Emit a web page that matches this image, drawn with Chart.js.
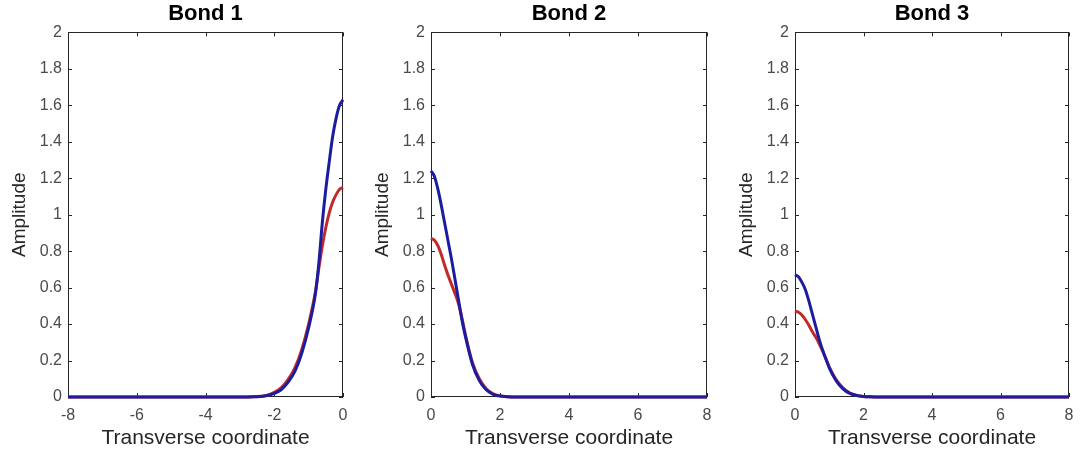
<!DOCTYPE html>
<html>
<head>
<meta charset="utf-8">
<style>
  body { margin: 0; background: #fff; }
  .panel { position: absolute; top: 0; height: 452px; }
</style>
</head>
<body>
<div class="panel" style="left:0px;width:362px"><canvas id="bond1"></canvas></div>
<div class="panel" style="left:363px;width:362px"><canvas id="bond2"></canvas></div>
<div class="panel" style="left:727px;width:358px"><canvas id="bond3"></canvas></div>
<script src="https://cdn.jsdelivr.net/npm/chart.js"></script>
<script>

// values
const bond1X    = [-8, -6, -4, -3, -2.6, -2.4, -2.2, -2.0, -1.8, -1.6, -1.4, -1.2, -1.0, -0.8, -0.7, -0.6, -0.5, -0.4, -0.3, -0.2, -0.1, 0];
const bond1Blue = [0, 0, 0, 0, 0.001, 0.003, 0.008, 0.02, 0.04, 0.08, 0.14, 0.24, 0.38, 0.57, 0.74, 0.96, 1.14, 1.29, 1.43, 1.53, 1.60, 1.63];
const bond1Red  = [0, 0, 0, 0, 0.001, 0.004, 0.01, 0.025, 0.05, 0.095, 0.16, 0.26, 0.40, 0.58, 0.71, 0.83, 0.93, 1.01, 1.07, 1.11, 1.14, 1.15];

const bond23X   = [0, 0.1, 0.2, 0.3, 0.4, 0.5, 0.6, 0.7, 0.8, 0.9, 1.0, 1.2, 1.4, 1.6, 1.8, 2.0, 2.2, 2.4, 3, 4, 6, 8];
const bond2Blue = [1.24, 1.21, 1.14, 1.05, 0.95, 0.85, 0.75, 0.64, 0.53, 0.42, 0.33, 0.18, 0.09, 0.04, 0.015, 0.005, 0.002, 0, 0, 0, 0, 0];
const bond2Red  = [0.87, 0.86, 0.83, 0.78, 0.72, 0.665, 0.615, 0.565, 0.51, 0.43, 0.34, 0.19, 0.10, 0.045, 0.018, 0.006, 0.002, 0, 0, 0, 0, 0];
const bond3Blue = [0.67, 0.66, 0.63, 0.59, 0.53, 0.46, 0.39, 0.32, 0.26, 0.21, 0.16, 0.09, 0.045, 0.02, 0.008, 0.003, 0.001, 0, 0, 0, 0, 0];
const bond3Red  = [0.47, 0.465, 0.45, 0.425, 0.395, 0.36, 0.33, 0.295, 0.255, 0.21, 0.165, 0.095, 0.05, 0.022, 0.009, 0.003, 0.001, 0, 0, 0, 0, 0];

const FONT = "'Liberation Sans', Arial, Helvetica, sans-serif";

// matlab style box with inward ticks
const boxTicks = {
  id: 'boxTicks',
  beforeDatasetsDraw(chart) {
    const ctx = chart.ctx, a = chart.chartArea;
    const xs = chart.scales.x, ys = chart.scales.y;
    const len = 4;
    ctx.save();
    ctx.strokeStyle = '#262626';
    ctx.lineWidth = 1;
    ctx.strokeRect(Math.round(a.left) + 0.5, Math.round(a.top) + 0.5,
                   Math.round(a.width) - 1, Math.round(a.height) - 1);
    ctx.beginPath();
    xs.ticks.forEach(function(t) {
      const px = Math.round(xs.getPixelForValue(t.value)) + 0.5;
      ctx.moveTo(px, a.bottom); ctx.lineTo(px, a.bottom - len);
      ctx.moveTo(px, a.top); ctx.lineTo(px, a.top + len);
    });
    ys.ticks.forEach(function(t) {
      const py = Math.round(ys.getPixelForValue(t.value)) + 0.5;
      ctx.moveTo(a.left, py); ctx.lineTo(a.left + len, py);
      ctx.moveTo(a.right, py); ctx.lineTo(a.right - len, py);
    });
    ctx.stroke();
    ctx.restore();
  }
};

function toPoints(xs, ys) {
  return xs.map(function(x, i) { return {x: x, y: ys[i]}; });
}

function makeChart(id, title, xs, red, blue, xmin, xmax, padRight) {
  const lineStyle = {
    borderWidth: 3,
    pointRadius: 0,
    fill: false,
    cubicInterpolationMode: 'monotone',
    clip: false
  };
  return new Chart(id, {
    type: 'line',
    data: {
      datasets: [
        Object.assign({label: 'blue', data: toPoints(xs, blue), borderColor: '#1c1ca0'}, lineStyle),
        Object.assign({label: 'red', data: toPoints(xs, red), borderColor: '#c22a2a'}, lineStyle)
      ]
    },
    options: {
      responsive: true,
      maintainAspectRatio: false,
      animation: false,
      events: [],
      layout: { padding: { left: 0, right: padRight, top: 0, bottom: 0 } },
      plugins: {
        legend: { display: false },
        tooltip: { enabled: false },
        title: {
          display: true,
          text: title,
          fullSize: false,
          color: '#000',
          font: { family: FONT, size: 22, weight: 'bold', lineHeight: 1.2 },
          padding: { top: 1, bottom: 5 }
        }
      },
      scales: {
        x: {
          type: 'linear',
          min: xmin, max: xmax,
          grid: { display: false, drawTicks: false },
          border: { display: false },
          ticks: {
            stepSize: 2,
            padding: 9,
            color: '#4a4a4a',
            font: { family: FONT, size: 16 },
            callback: function(v) { return String(v); }
          },
          title: {
            display: true,
            text: 'Transverse coordinate',
            color: '#262626',
            font: { family: FONT, size: 21 },
            padding: { top: 0, bottom: 1 }
          },
          afterFit: function(s) { s.height = 55; }
        },
        y: {
          min: 0, max: 2,
          grid: { display: false, drawTicks: false },
          border: { display: false },
          ticks: {
            stepSize: 0.2,
            padding: 6,
            color: '#4a4a4a',
            font: { family: FONT, size: 16 },
            callback: function(v) { return String(+v.toFixed(1)); }
          },
          title: {
            display: true,
            text: 'Amplitude',
            color: '#262626',
            font: { family: FONT, size: 19 },
            padding: { top: 8, bottom: 0 }
          },
          afterFit: function(s) { s.width = 68; }
        }
      }
    },
    plugins: [boxTicks]
  });
}

makeChart('bond1', 'Bond 1', bond1X, bond1Red, bond1Blue, -8, 0, 19);
makeChart('bond2', 'Bond 2', bond23X, bond2Red, bond2Blue, 0, 8, 18);
makeChart('bond3', 'Bond 3', bond23X, bond3Red, bond3Blue, 0, 8, 16);

</script>
</body>
</html>
